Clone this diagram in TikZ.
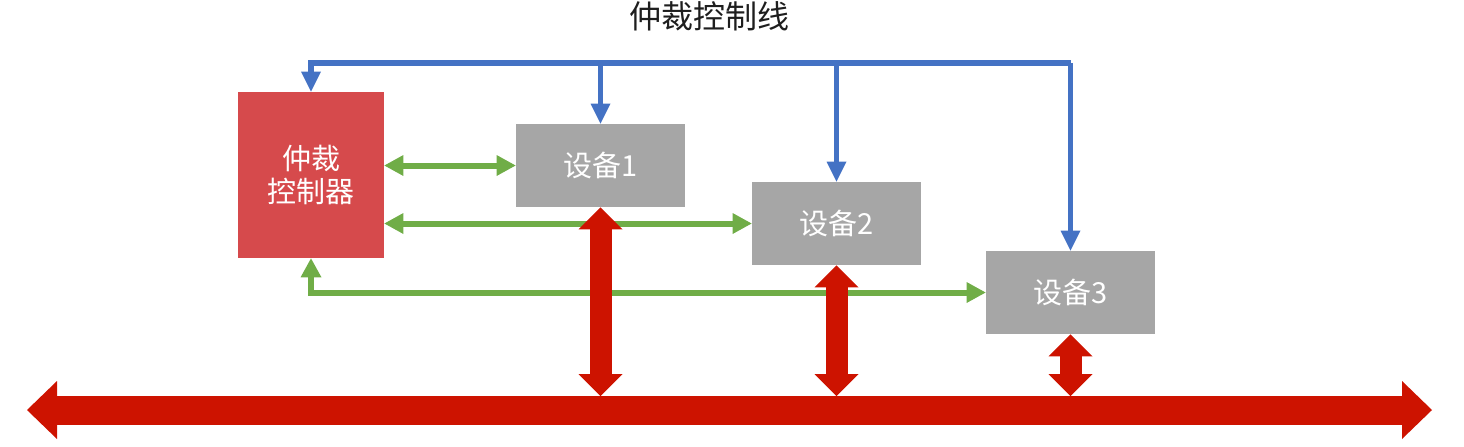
\documentclass[tikz,border=0pt]{standalone}
\usepackage{fontspec}
\setmainfont{Noto Sans CJK SC}
\usetikzlibrary{arrows.meta,calc}
\definecolor{ctrlred}{RGB}{214,74,76}
\definecolor{devgray}{RGB}{166,166,166}
\definecolor{lineblue}{RGB}{68,114,196}
\definecolor{linegreen}{RGB}{112,173,71}
\definecolor{busred}{RGB}{205,19,0}
\definecolor{titlegray}{RGB}{30,30,30}
\tikzset{
  box/.style={draw=none, inner sep=0pt, text=white, font=\fontsize{14.5pt}{16.5pt}\selectfont, align=center},
  ctrlbox/.style={box, fill=ctrlred, minimum width=73pt, minimum height=83pt},
  devbox/.style={box, fill=devgray, minimum width=84.5pt, minimum height=41.5pt},
  blueline/.style={draw=lineblue, line width=2.75pt, -{Triangle[width=10pt,length=10pt,line width=0pt 0]}},
  greenline/.style={draw=linegreen, line width=3pt, {Triangle[width=10.5pt,length=9.5pt,line width=0pt 0]}-{Triangle[width=10.5pt,length=9.5pt,line width=0pt 0]}},
  busline/.style={draw=busred, line width=14.5pt, {Triangle[width=29pt,length=15pt,line width=0pt 0]}-{Triangle[width=29pt,length=15pt,line width=0pt 0]}},
  tapline/.style={draw=busred, line width=11pt, {Triangle[width=22pt,length=11pt,line width=0pt 0]}-{Triangle[width=22pt,length=11pt,line width=0pt 0]}}
}
\begin{document}
\begin{tikzpicture}[x=0.5pt,y=-0.5pt]
\useasboundingbox (0,0) rectangle (1464,446);
\node[font=\fontsize{16pt}{18pt}\selectfont, text=titlegray] (title) at (709,16) {仲裁控制线};
\node[ctrlbox] (ctrl) at (311,175) {仲裁\\控制器};
\node[devbox] (d1) at (600.5,165.5) {设备1};
\node[devbox] (d2) at (836.5,223.5) {设备2};
\node[devbox] (d3) at (1070.5,292.5) {设备3};
\coordinate (top) at (0,63);
\coordinate (busL) at (27,410);
\coordinate (busR) at (1432,410);
\coordinate (bustop) at (0,396);
% blue control lines
\draw[blueline] (d3.north |- top) -| (ctrl.north);
\draw[blueline] (d3.north |- top) -- (d3.north);
\draw[blueline] (d1.north |- top) -- (d1.north);
\draw[blueline] (d2.north |- top) -- (d2.north);
% green lines
\draw[greenline] (ctrl.east |- d1.west) -- (d1.west);
\draw[greenline] (ctrl.east |- d2.west) -- (d2.west);
\draw[greenline] (ctrl.south) |- (d3.west);
% red bus
\draw[busline] (busL) -- (busR);
\draw[tapline] (d1.south) -- (d1.south |- bustop);
\draw[tapline] (d2.south) -- (d2.south |- bustop);
\draw[tapline] (d3.south) -- (d3.south |- bustop);
\end{tikzpicture}
\end{document}
